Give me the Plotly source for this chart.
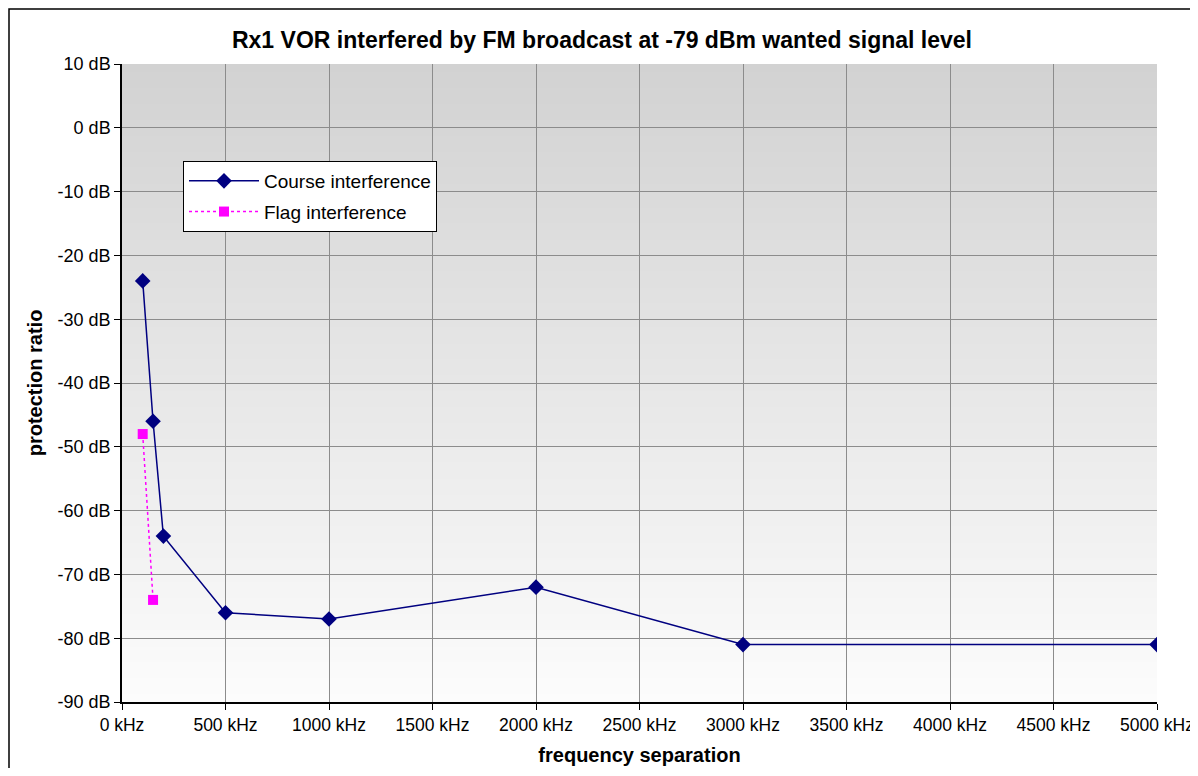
import plotly.graph_objects as go

freq_course = [100, 150, 200, 500, 1000, 2000, 3000, 5000]
course_db = [-24, -46, -64, -76, -77, -72, -81, -81]
freq_flag = [100, 150]
flag_db = [-48, -74]

x_ticks = list(range(0, 5001, 500))
x_tick_labels = [f"{v} kHz" for v in x_ticks]
y_ticks = list(range(-90, 11, 10))
y_tick_labels = [f"{v} dB" for v in y_ticks]

# page has an 8px body margin; figure is sized to fit inside the window
W, H = 1190, 760
L, R, T, B = 114, 41, 56, 66
pw, ph = W - L - R, H - T - B

fig = go.Figure()
fig.add_trace(go.Scatter(
    x=freq_course, y=course_db, mode="lines+markers", name="Course interference",
    legendgroup="a",
    line=dict(color="#000080", width=1.5),
    marker=dict(symbol="diamond", size=12, color="#000080"),
))
fig.add_trace(go.Scatter(
    x=freq_flag, y=flag_db, mode="lines+markers", name="Flag interference",
    legendgroup="b",
    line=dict(color="#FF00FF", width=1.5, dash="dot"),
    marker=dict(symbol="square", size=10, color="#FF00FF"),
))

shapes = []
n = 80
top = (210, 210, 210)
bot = (252, 252, 252)
for i in range(n):
    f = i / (n - 1)
    c = tuple(round(top[k] + (bot[k] - top[k]) * f) for k in range(3))
    shapes.append(dict(type="rect", xref="paper", yref="paper",
                       x0=0, x1=1, y0=max(0, 1 - (i + 1.6) / n), y1=1 - i / n,
                       fillcolor=f"rgb{c}", line=dict(width=0), layer="below"))
# outer chart border (figure px -> paper coords)
bx0, bx1, by0, by1 = 1, 1189, 1, 800
shapes.append(dict(type="rect", xref="paper", yref="paper",
                   x0=(bx0 - L) / pw, x1=(bx1 - L) / pw,
                   y0=(H - B - by1) / ph, y1=(H - B - by0) / ph,
                   line=dict(color="black", width=1.5), fillcolor="rgba(0,0,0,0)", layer="below"))

fig.update_layout(
    width=W, height=H,
    margin=dict(l=L, r=R, t=T, b=B, autoexpand=False),
    paper_bgcolor="white",
    plot_bgcolor="rgba(0,0,0,0)",
    font=dict(family="Liberation Sans, Arial, sans-serif", size=18, color="black"),
    title=dict(text="<b>Rx1 VOR interfered by FM broadcast at -79 dBm wanted signal level</b>",
               x=594 / W, xanchor="center", y=1 - 32 / H, yanchor="middle",
               font=dict(size=23)),
    shapes=shapes,
    showlegend=True,
    legend=dict(x=(175 - L) / pw, y=(H - B - 153) / ph, xanchor="left", yanchor="top",
                bgcolor="white", bordercolor="black", borderwidth=1,
                font=dict(size=19), tracegroupgap=3, itemwidth=70),
    xaxis=dict(range=[0, 5000], tickvals=x_ticks, ticktext=x_tick_labels,
               showgrid=True, gridcolor="#8c8c8c", gridwidth=1,
               showline=True, linecolor="black", linewidth=1.5,
               ticks="outside", ticklen=6, tickcolor="black",
               zeroline=False, automargin=False, tickfont=dict(size=17.5),
               title=dict(text="<b>frequency separation</b>", font=dict(size=20), standoff=14)),
    yaxis=dict(range=[-90, 10], tickvals=y_ticks, ticktext=y_tick_labels,
               showgrid=True, gridcolor="#8c8c8c", gridwidth=1,
               showline=True, linecolor="black", linewidth=1.5,
               ticks="outside", ticklen=6, tickcolor="black",
               zeroline=False, automargin=False, tickfont=dict(size=18),
               title=dict(text="<b>protection ratio</b>", font=dict(size=20), standoff=10)),
)

fig.write_html("out.html")
